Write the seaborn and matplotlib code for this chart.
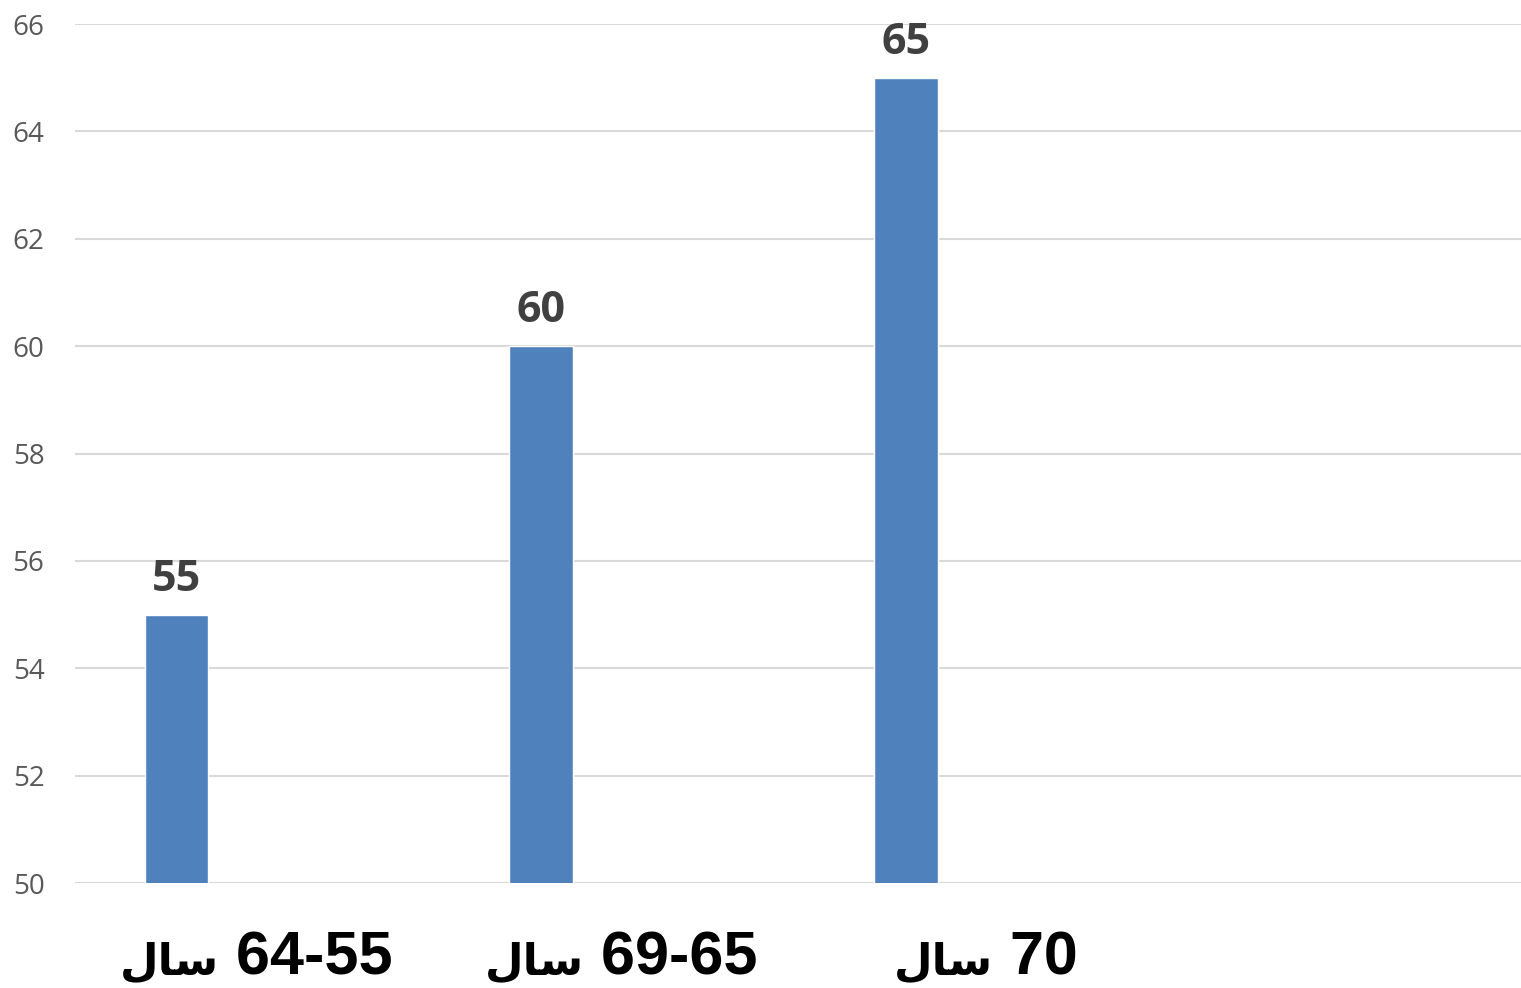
import numpy as np
import pandas as pd
import matplotlib
matplotlib.use("Agg")
import matplotlib.pyplot as plt
from matplotlib.offsetbox import TextArea, HPacker, AnnotationBbox
import seaborn as sns

# ---- data ----
categories = ["64-55 سال", "69-65 سال", "70 سال"]
values = [55, 60, 65]
y_ticks = [50, 52, 54, 56, 58, 60, 62, 64, 66]

# Arabic word shaped into presentation forms, in visual (left-to-right) order
SHAPED = {"سال": "\uFEDD\uFE8E\uFEB3"}

sns.set_theme(style="white")
plt.rcParams["font.family"] = ["Open Sans", "DejaVu Sans"]

BAR_COLOR = "#4F81BD"
GRID_COLOR = "#D9D9D9"
BAR_OFFSET = -0.219
BAR_WIDTH = 0.173

fig = plt.figure(figsize=(15.21, 9.88), dpi=100)
ax = fig.add_axes([75 / 1521, 105 / 988, 1 - 75 / 1521, (883 - 24) / 988])

df = pd.DataFrame({"pos": np.arange(len(categories)) + BAR_OFFSET, "value": values})
sns.barplot(data=df, x="pos", y="value", native_scale=True, width=BAR_WIDTH,
            color=BAR_COLOR, saturation=1, ax=ax, zorder=3, errorbar=None)

ax.set_ylim(50, 66)
ax.set_xlim(-0.496, 3.466)
ax.set_yticks(y_ticks)
ax.set_yticklabels([str(t) for t in y_ticks], color="#595959", fontsize=20)
ax.set_xticks(np.arange(len(categories)))
ax.set_xticklabels([""] * len(categories))
ax.tick_params(axis="y", length=0, pad=22)
ax.tick_params(axis="x", length=0)
ax.set_xlabel("")
ax.set_ylabel("")
ax.yaxis.grid(True, color=GRID_COLOR, linewidth=1.5, zorder=0)
ax.xaxis.grid(False)
for s in ax.spines.values():
    s.set_visible(False)

# category labels: Arabic word (left) + number range (right), baseline aligned
for i, lab in enumerate(categories):
    num, word = lab.split(" ")
    ta_word = TextArea(SHAPED.get(word, word),
                       textprops=dict(fontsize=32, fontweight="bold", color="black",
                                      family=["DejaVu Sans"]))
    ta_num = TextArea(" " + num,
                      textprops=dict(fontsize=44, fontweight="bold", color="black",
                                     family=["Liberation Sans", "DejaVu Sans"]))
    box = HPacker(children=[ta_word, ta_num], align="baseline", pad=0, sep=0)
    ab = AnnotationBbox(box, (i, 0), xycoords=ax.get_xaxis_transform(),
                        xybox=(0, -34), boxcoords="offset points",
                        box_alignment=(0.5, 1), frameon=False, pad=0,
                        annotation_clip=False)
    ax.add_artist(ab)

for cont in ax.containers:
    ax.bar_label(cont, labels=[str(v) for v in values], padding=10, fontsize=31,
                 fontweight="bold", color="#404040")

fig.savefig("out.png", dpi=100, facecolor="white")
